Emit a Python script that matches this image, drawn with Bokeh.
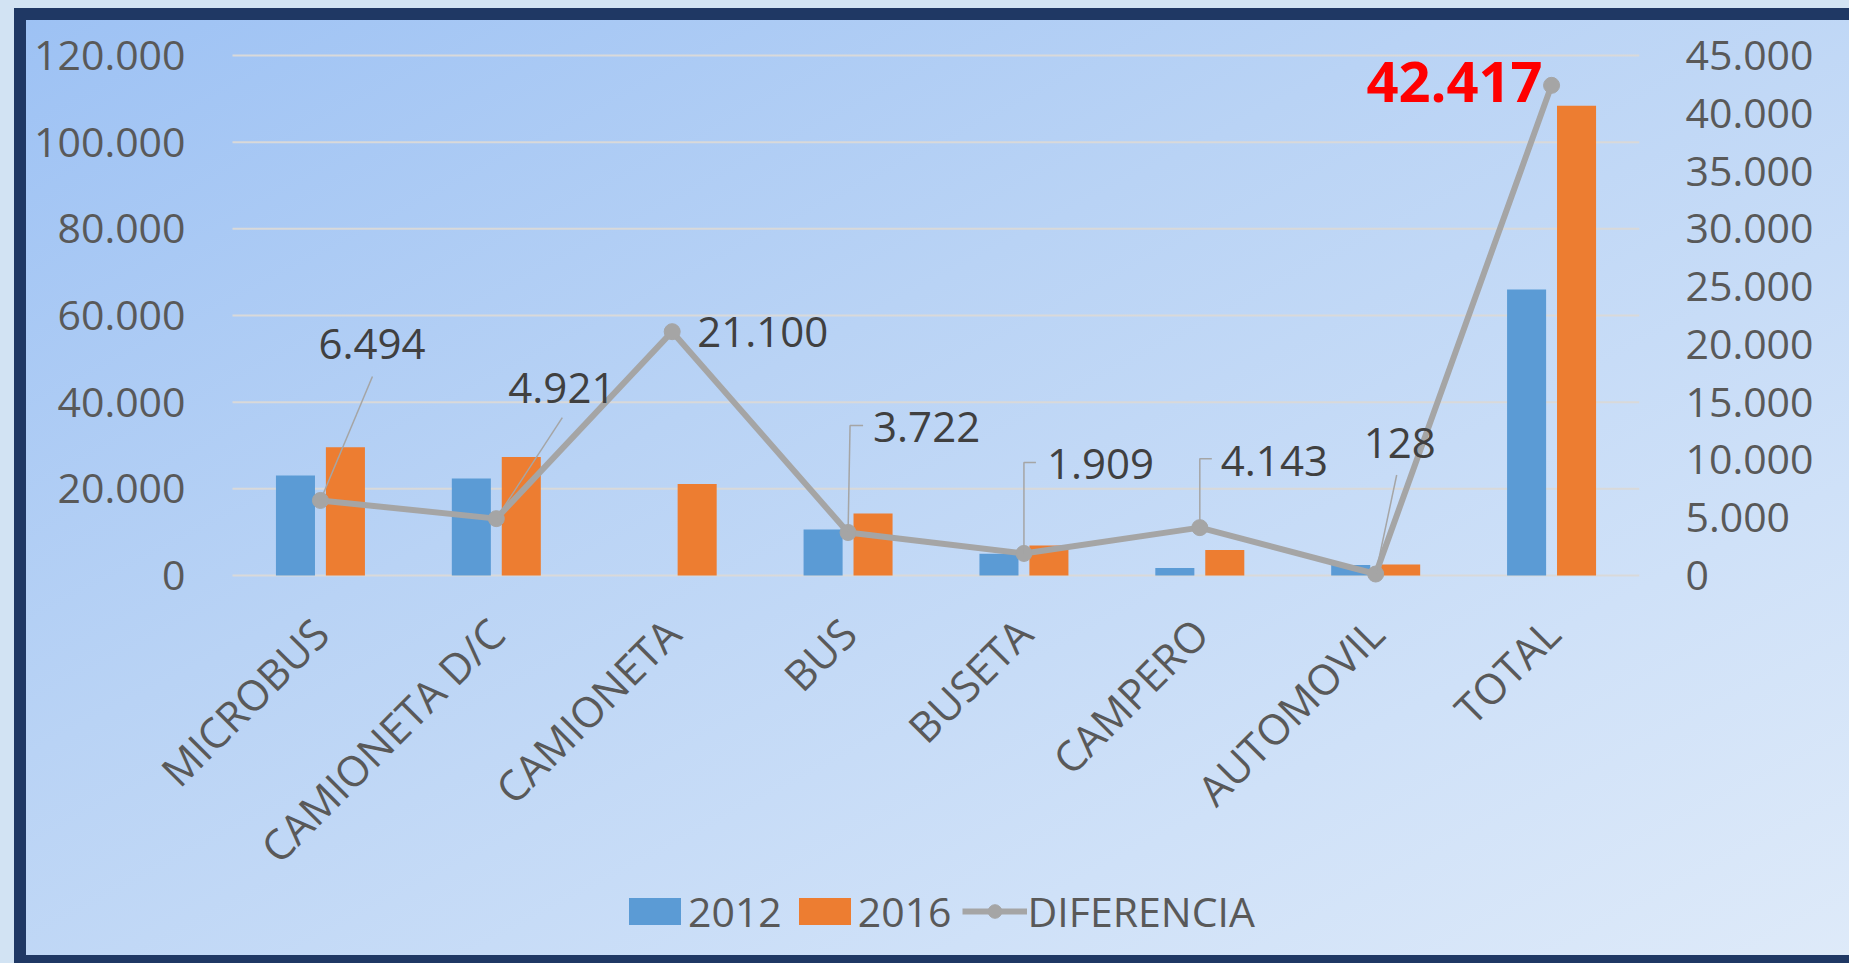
import numpy as np
from bokeh.plotting import figure
from bokeh.models import (Range1d, LinearAxis, FixedTicker, Legend, LegendItem,
                          ColumnDataSource)
from bokeh.core.properties import value
from bokeh.embed import file_html
from bokeh.resources import INLINE

# ---------------- data ----------------
categories = ["MICROBUS", "CAMIONETA D/C", "CAMIONETA", "BUS", "BUSETA",
              "CAMPERO", "AUTOMOVIL", "TOTAL"]
values_2012 = [23100, 22400, 0, 10600, 5000, 1750, 2400, 66000]
values_2016 = [29594, 27321, 21100, 14322, 6909, 5893, 2528, 108417]
diferencia = [6494, 4921, 21100, 3722, 1909, 4143, 128, 42417]
diferencia_labels = ["6.494", "4.921", "21.100", "3.722", "1.909", "4.143", "128", "42.417"]
series_names = ["2012", "2016", "DIFERENCIA"]

left_ticks = [0, 20000, 40000, 60000, 80000, 100000, 120000]
left_tick_labels = ["0", "20.000", "40.000", "60.000", "80.000", "100.000", "120.000"]
right_ticks = [0, 5000, 10000, 15000, 20000, 25000, 30000, 35000, 40000, 45000]
right_tick_labels = ["0", "5.000", "10.000", "15.000", "20.000", "25.000",
                     "30.000", "35.000", "40.000", "45.000"]

# ---------------- layout / style ----------------
W, H = 1849, 963
INNER_LEFT, INNER_TOP = 26, 20     # inner edges of the navy frame
PLOT_LEFT, PLOT_RIGHT = 232, 1639  # horizontal extent of the category band
TOP_PX, ZERO_PX = 55, 575          # screen rows of the maximum and of 0
B_RIGHT = W - PLOT_RIGHT
BAND_W = PLOT_RIGHT - PLOT_LEFT
BAR_AREA_H = ZERO_PX - TOP_PX
BELOW_H = H - ZERO_PX
ABOVE_H = TOP_PX - INNER_TOP
BLUE, ORANGE, GRAY = "#5B9BD5", "#ED7D31", "#A5A5A5"
TICK_COLOR = "#595959"
FONT = "Open Sans"

# label offsets in screen pixels (dx, dy; dy positive = down) relative to each point
label_dx = [-2, 12, 25, 25, 23, 21, -12, -9]
label_dy = [-156, -131, 0, -105, -89, -67, -131, -3]
# leader line paths in screen-pixel offsets from each point (None = no leader)
leader_paths = [
    [(0, 0), (52, -124)],
    [(0, 0), (66, -101)],
    None,
    [(0, 0), (2, -107), (15, -107)],
    [(0, 0), (0, -91), (12, -91)],
    [(0, 0), (0, -69), (12, -69)],
    [(0, 0), (21, -99)],
    None,
]

n = len(categories)
xs = np.arange(n) + 0.5
LEFT_MAX = left_ticks[-1]
RIGHT_MAX = right_ticks[-1]
px_x = BAND_W / n                  # pixels per category unit
px_r = BAR_AREA_H / RIGHT_MAX      # pixels per right-axis unit


def padded(vmax):
    return Range1d(-vmax * BELOW_H / BAR_AREA_H, vmax + vmax * ABOVE_H / BAR_AREA_H)


p = figure(width=W, height=H, output_backend="svg", toolbar_location=None,
           x_range=Range1d(-(PLOT_LEFT - INNER_LEFT) / px_x, n),
           y_range=padded(LEFT_MAX),
           min_border_left=INNER_LEFT, min_border_right=B_RIGHT,
           min_border_top=INNER_TOP, min_border_bottom=0,
           background_fill_color=None, border_fill_color=None,
           outline_line_color=None)
p.extra_y_ranges = {"right": padded(RIGHT_MAX)}

p.styles = {
    "background-image": "linear-gradient(to bottom right, #9CC1F4 0%, #B9D3F5 40%, #CFE1F8 75%, #DEEAF9 100%)",
    "box-shadow": "inset 14px 8px 0 0 #D2E3F3, inset 26px 20px 0 0 #1F3864, inset 0 -8px 0 0 #1F3864",
}

# horizontal gridlines across the category band only
p.xgrid.visible = False
p.ygrid.visible = False
p.segment(x0=[0] * len(left_ticks), x1=[n] * len(left_ticks), y0=left_ticks, y1=left_ticks,
          line_color="#D9D9D9", line_width=2)

# bars
src = ColumnDataSource(dict(x12=xs - 0.142, x16=xs + 0.142, x=xs,
                            v12=values_2012, v16=values_2016, d=diferencia))
r12 = p.vbar(x="x12", top="v12", width=0.222, source=src, fill_color=BLUE, line_color=None)
r16 = p.vbar(x="x16", top="v16", width=0.222, source=src, fill_color=ORANGE, line_color=None)

# line on the secondary axis
rl = p.line(x="x", y="d", source=src, y_range_name="right", line_color=GRAY, line_width=6)
rs = p.scatter(x="x", y="d", source=src, y_range_name="right", size=16,
               fill_color=GRAY, line_color=GRAY)

# leader lines
lx, ly = [], []
for i, path in enumerate(leader_paths):
    if path is None:
        continue
    lx.append([xs[i] + dx / px_x for dx, dy in path])
    ly.append([diferencia[i] - dy / px_r for dx, dy in path])
p.multi_line(xs=lx, ys=ly, y_range_name="right", line_color=GRAY, line_width=1.5)

# data labels
k = n - 1
lab = ColumnDataSource(dict(x=list(xs[:k]), y=diferencia[:k], t=diferencia_labels[:k],
                            dx=label_dx[:k], dy=label_dy[:k]))
p.text(x="x", y="y", text="t", source=lab, y_range_name="right",
       x_offset="dx", y_offset="dy", text_font=value(FONT), text_font_size="42px",
       text_color="#404040", text_align="left", text_baseline="middle")
tot = ColumnDataSource(dict(x=[xs[k]], y=[diferencia[k]], t=[diferencia_labels[k]]))
p.text(x="x", y="y", text="t", source=tot, y_range_name="right",
       x_offset=label_dx[k], y_offset=label_dy[k], text_font=value(FONT),
       text_font_size="56px", text_font_style="bold", text_color="#FF0000",
       text_align="right", text_baseline="middle")

# axes
def style_axis(ax, standoff, size="41px"):
    ax.axis_line_color = None
    ax.major_tick_line_color = None
    ax.minor_tick_line_color = None
    ax.major_tick_out = 0
    ax.major_tick_in = 0
    ax.major_label_text_font = FONT
    ax.major_label_text_font_size = size
    ax.major_label_text_color = TICK_COLOR
    ax.major_label_standoff = standoff

# primary value axis pinned at the left edge of the category band
yl = p.yaxis[0]
yl.fixed_location = 0
yl.ticker = FixedTicker(ticks=left_ticks)
yl.major_label_overrides = {t: s for t, s in zip(left_ticks, left_tick_labels)}
style_axis(yl, 47)

yr = LinearAxis(y_range_name="right", ticker=FixedTicker(ticks=right_ticks))
yr.major_label_overrides = {t: s for t, s in zip(right_ticks, right_tick_labels)}
style_axis(yr, 46)
p.add_layout(yr, "right")

# category axis pinned at the zero line
xa = p.xaxis[0]
xa.fixed_location = 0
xa.ticker = FixedTicker(ticks=list(xs))
xa.major_label_overrides = {float(x): c for x, c in zip(xs, categories)}
xa.major_label_orientation = np.pi / 4
style_axis(xa, 50, "42px")

# legend (inside the extended frame, under the category labels)
legend = Legend(items=[LegendItem(label=series_names[0], renderers=[r12]),
                       LegendItem(label=series_names[1], renderers=[r16]),
                       LegendItem(label=series_names[2], renderers=[rl, rs])],
                location=(596, 24), orientation="horizontal",
                glyph_width=65, glyph_height=34, label_standoff=1, spacing=10,
                padding=0, margin=0, border_line_color=None,
                background_fill_alpha=0, label_text_font=FONT,
                label_text_font_size="41px", label_text_color=TICK_COLOR)
p.add_layout(legend)

open("out.html", "w").write(file_html(p, INLINE))
